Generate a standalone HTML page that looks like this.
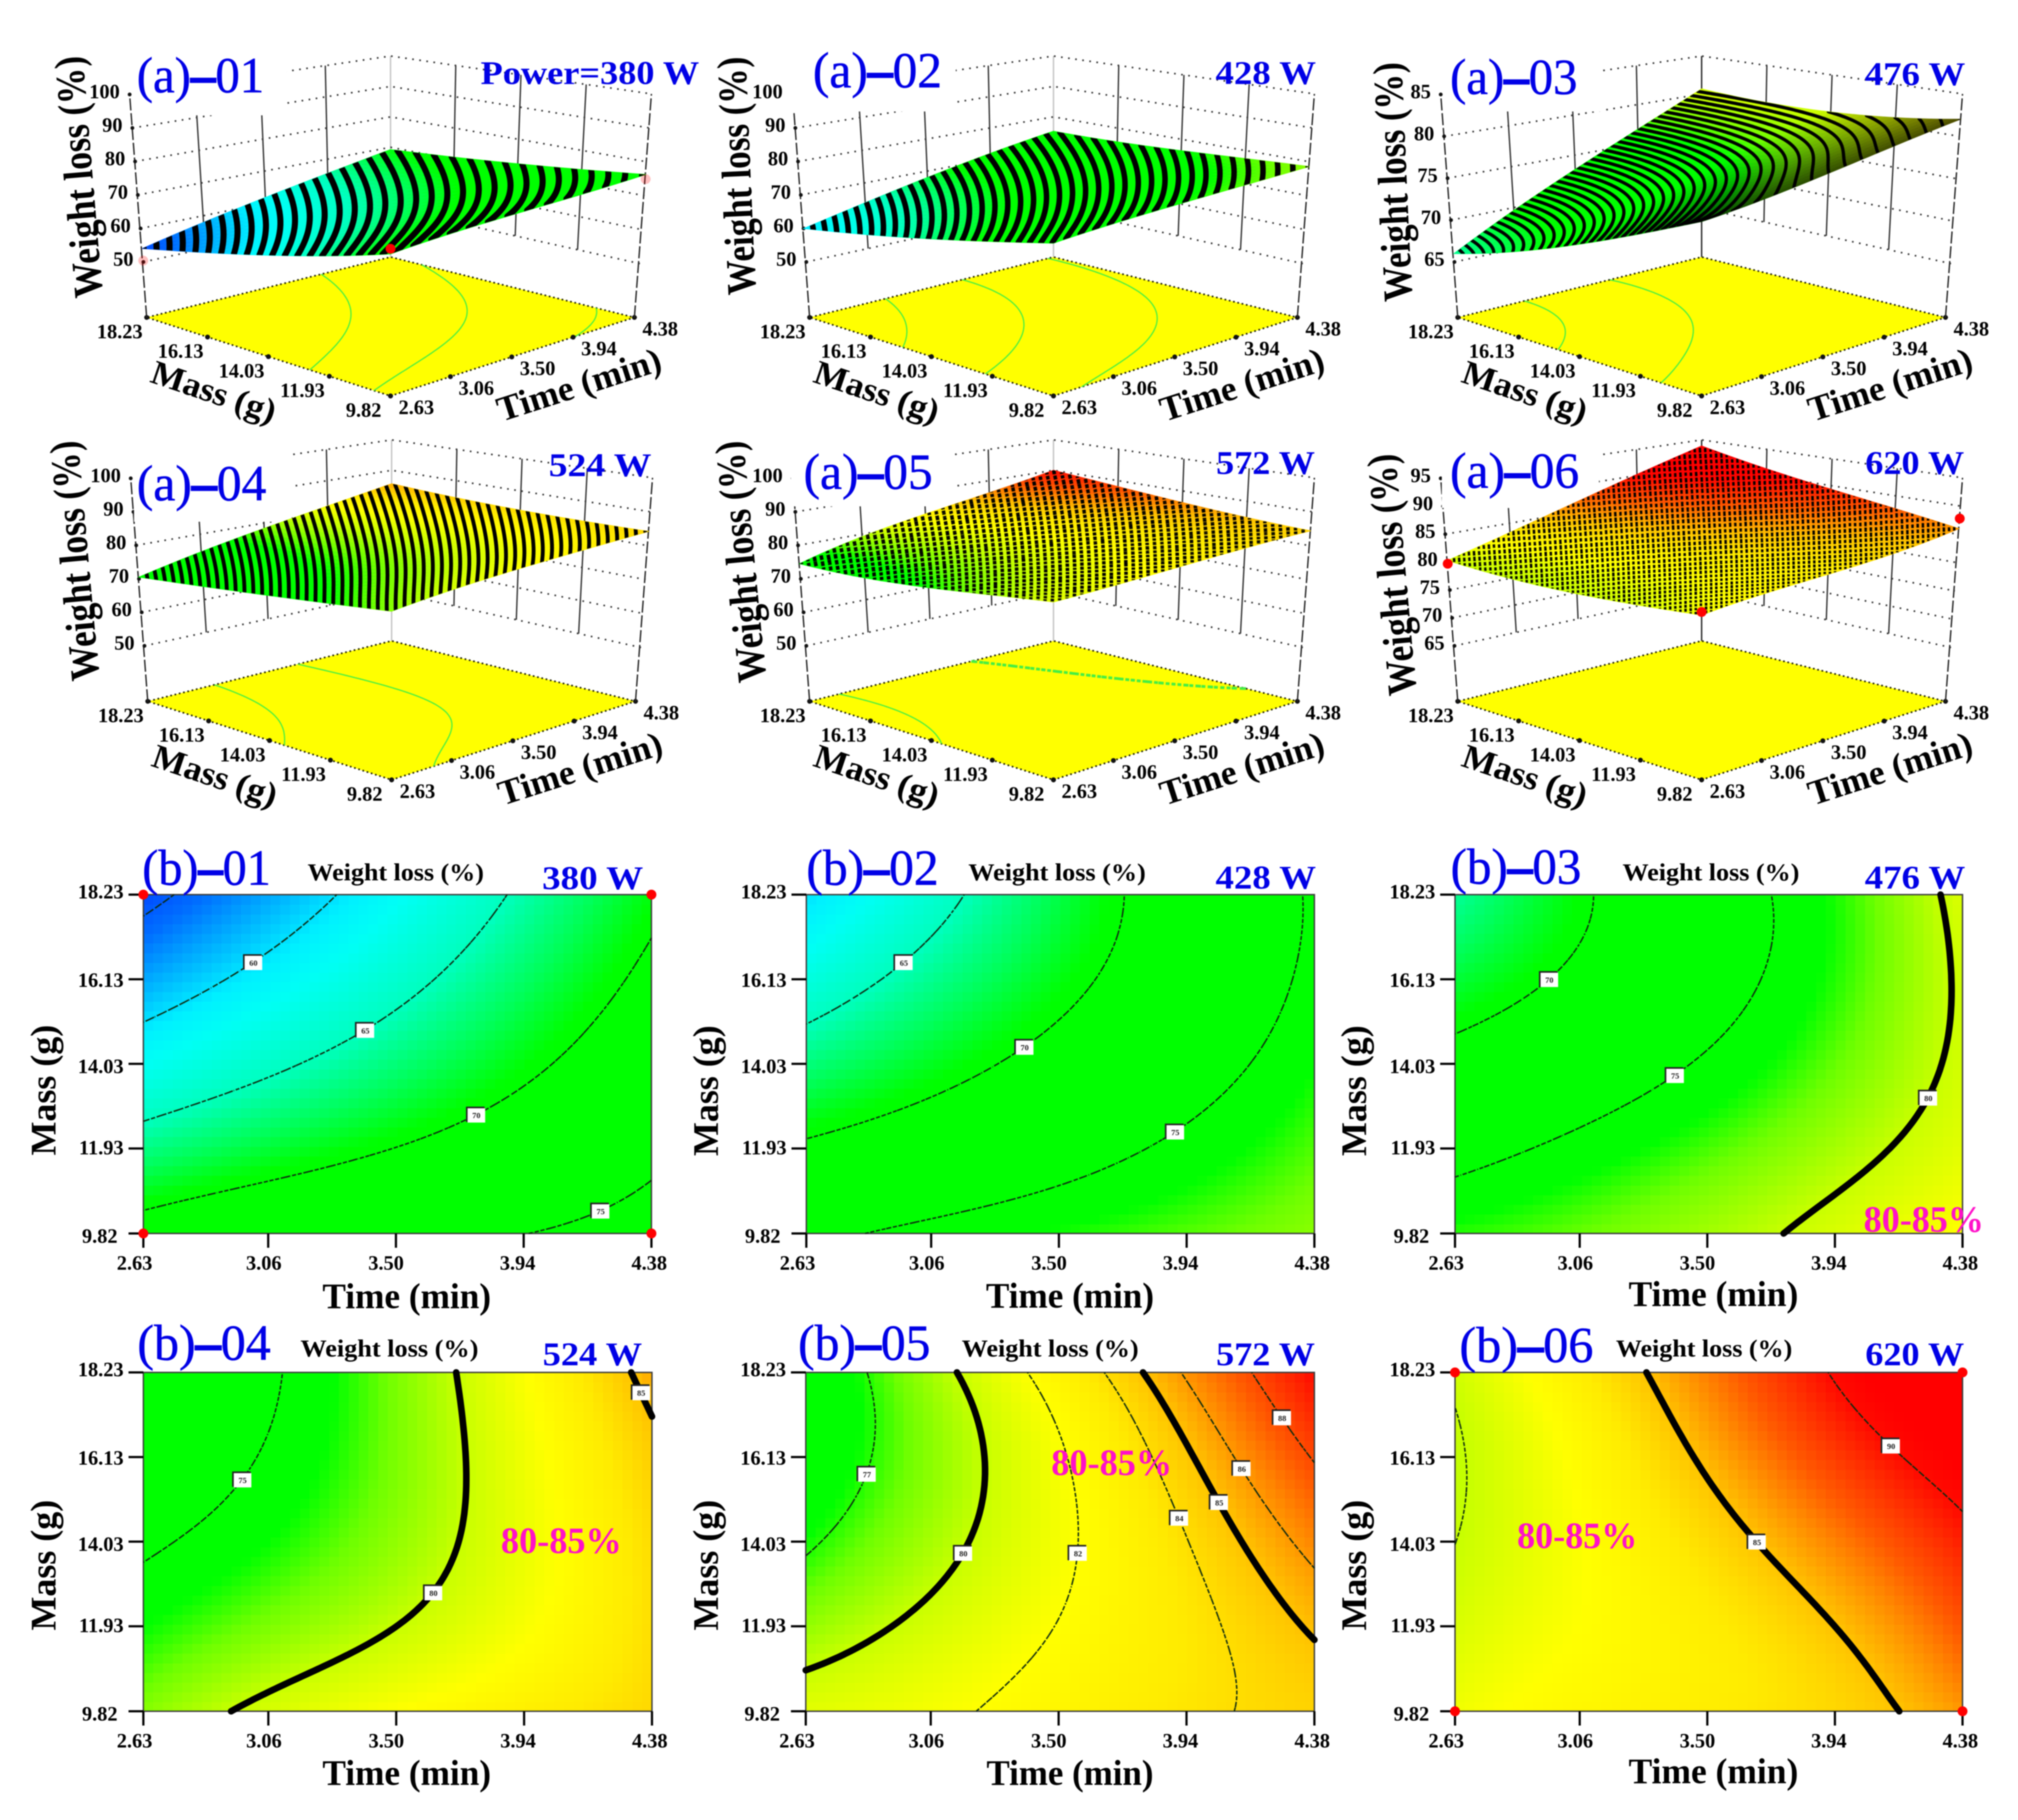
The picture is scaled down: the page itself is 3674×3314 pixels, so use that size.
<!DOCTYPE html>
<html lang="en">
<head>
<meta charset="utf-8">
<title>Weight loss response surfaces and contour plots</title>
<style>
html,body{margin:0;padding:0;background:#fff;width:3674px;height:3314px;overflow:hidden}
svg{display:block;filter:blur(1px)}
text{font-family:"Liberation Serif",serif}
.title{font-size:92px;fill:#0000e6;stroke:#0000e6;stroke-width:.8px}
.title tspan{font-weight:bold;stroke-width:3px}
.power{font-size:60px;font-weight:bold;fill:#0000e6}
.axis{font-weight:bold;fill:#000}
.heat-title{font-size:44px;font-weight:bold;fill:#000}
.range{font-size:68px;font-weight:bold;fill:#ff10c8}
</style>
</head>
<body>
<svg id="figure" xmlns="http://www.w3.org/2000/svg" width="3674" height="3314" viewBox="0 0 3674 3314">
<rect width="3674" height="3314" fill="#fff"/>
<g id="marks"></g>
<g fill="#fff">
<rect x="245" y="70" width="277" height="140"/>
<rect x="1437" y="70" width="303" height="133"/>
<rect x="2630" y="70" width="288" height="133"/>
<rect x="244" y="800" width="287" height="150"/>
<rect x="1440" y="800" width="296" height="122"/>
<rect x="2625" y="800" width="286" height="125"/>
</g>
<g id="surfaces"></g>
<g id="labels"></g>
<g>
<text class="title" x="249" y="168" textLength="232" lengthAdjust="spacingAndGlyphs">(a)<tspan>–</tspan>01</text>
<text class="title" x="1480" y="159" textLength="235" lengthAdjust="spacingAndGlyphs">(a)<tspan>–</tspan>02</text>
<text class="title" x="2640" y="171" textLength="232" lengthAdjust="spacingAndGlyphs">(a)<tspan>–</tspan>03</text>
<text class="title" x="249" y="911" textLength="236" lengthAdjust="spacingAndGlyphs">(a)<tspan>–</tspan>04</text>
<text class="title" x="1463" y="890" textLength="235" lengthAdjust="spacingAndGlyphs">(a)<tspan>–</tspan>05</text>
<text class="title" x="2640" y="888" textLength="235" lengthAdjust="spacingAndGlyphs">(a)<tspan>–</tspan>06</text>
<text class="title" x="259" y="1611" textLength="234" lengthAdjust="spacingAndGlyphs">(b)<tspan>–</tspan>01</text>
<text class="title" x="1468" y="1611" textLength="241" lengthAdjust="spacingAndGlyphs">(b)<tspan>–</tspan>02</text>
<text class="title" x="2641" y="1609" textLength="238" lengthAdjust="spacingAndGlyphs">(b)<tspan>–</tspan>03</text>
<text class="title" x="250" y="2476" textLength="243" lengthAdjust="spacingAndGlyphs">(b)<tspan>–</tspan>04</text>
<text class="title" x="1453" y="2476" textLength="241" lengthAdjust="spacingAndGlyphs">(b)<tspan>–</tspan>05</text>
<text class="title" x="2657" y="2480" textLength="244" lengthAdjust="spacingAndGlyphs">(b)<tspan>–</tspan>06</text>
</g>
<g>
<text class="power" x="875" y="153" textLength="398" lengthAdjust="spacingAndGlyphs">Power=380 W</text>
<text class="power" x="2213" y="153" textLength="183" lengthAdjust="spacingAndGlyphs">428 W</text>
<text class="power" x="3395" y="155" textLength="183" lengthAdjust="spacingAndGlyphs">476 W</text>
<text class="power" x="999" y="867" textLength="187" lengthAdjust="spacingAndGlyphs">524 W</text>
<text class="power" x="2214" y="863" textLength="180" lengthAdjust="spacingAndGlyphs">572 W</text>
<text class="power" x="3396" y="863" textLength="180" lengthAdjust="spacingAndGlyphs">620 W</text>
<text class="power" x="987" y="1619" textLength="184" lengthAdjust="spacingAndGlyphs">380 W</text>
<text class="power" x="2213" y="1618" textLength="183" lengthAdjust="spacingAndGlyphs">428 W</text>
<text class="power" x="3395" y="1618" textLength="183" lengthAdjust="spacingAndGlyphs">476 W</text>
<text class="power" x="988" y="2486" textLength="181" lengthAdjust="spacingAndGlyphs">524 W</text>
<text class="power" x="2214" y="2486" textLength="180" lengthAdjust="spacingAndGlyphs">572 W</text>
<text class="power" x="3396" y="2486" textLength="180" lengthAdjust="spacingAndGlyphs">620 W</text>
</g>
<g>
<text class="axis" font-size="76" transform="translate(187,540) rotate(-94.8)" textLength="441" lengthAdjust="spacingAndGlyphs">Weight loss (%)</text>
<text class="axis" font-size="76" transform="translate(1376,536) rotate(-92.5)" textLength="434" lengthAdjust="spacingAndGlyphs">Weight loss (%)</text>
<text class="axis" font-size="76" transform="translate(2571,548) rotate(-92.6)" textLength="436" lengthAdjust="spacingAndGlyphs">Weight loss (%)</text>
<text class="axis" font-size="76" transform="translate(181,1237) rotate(-95.2)" textLength="438" lengthAdjust="spacingAndGlyphs">Weight loss (%)</text>
<text class="axis" font-size="76" transform="translate(1395,1240) rotate(-95.5)" textLength="441" lengthAdjust="spacingAndGlyphs">Weight loss (%)</text>
<text class="axis" font-size="76" transform="translate(2579,1264) rotate(-95.1)" textLength="441" lengthAdjust="spacingAndGlyphs">Weight loss (%)</text>
<text class="axis" font-size="62" transform="translate(271,695) rotate(18.7)" textLength="236" lengthAdjust="spacingAndGlyphs">Mass (g)</text>
<text class="axis" font-size="62" transform="translate(1478,695) rotate(18.7)" textLength="236" lengthAdjust="spacingAndGlyphs">Mass (g)</text>
<text class="axis" font-size="62" transform="translate(2658,695) rotate(18.7)" textLength="236" lengthAdjust="spacingAndGlyphs">Mass (g)</text>
<text class="axis" font-size="62" transform="translate(273,1394) rotate(18.7)" textLength="236" lengthAdjust="spacingAndGlyphs">Mass (g)</text>
<text class="axis" font-size="62" transform="translate(1478,1394) rotate(18.7)" textLength="236" lengthAdjust="spacingAndGlyphs">Mass (g)</text>
<text class="axis" font-size="62" transform="translate(2658,1394) rotate(18.7)" textLength="236" lengthAdjust="spacingAndGlyphs">Mass (g)</text>
<text class="axis" font-size="64" transform="translate(913,768) rotate(-17.8)" textLength="310" lengthAdjust="spacingAndGlyphs">Time (min)</text>
<text class="axis" font-size="64" transform="translate(2120,768) rotate(-17.8)" textLength="310" lengthAdjust="spacingAndGlyphs">Time (min)</text>
<text class="axis" font-size="64" transform="translate(3300,768) rotate(-17.8)" textLength="310" lengthAdjust="spacingAndGlyphs">Time (min)</text>
<text class="axis" font-size="64" transform="translate(915,1467) rotate(-17.8)" textLength="310" lengthAdjust="spacingAndGlyphs">Time (min)</text>
<text class="axis" font-size="64" transform="translate(2120,1467) rotate(-17.8)" textLength="310" lengthAdjust="spacingAndGlyphs">Time (min)</text>
<text class="axis" font-size="64" transform="translate(3300,1467) rotate(-17.8)" textLength="310" lengthAdjust="spacingAndGlyphs">Time (min)</text>
</g>
<g>
<text class="heat-title" x="560" y="1603" textLength="321" lengthAdjust="spacingAndGlyphs">Weight loss (%)</text>
<text class="heat-title" x="1763" y="1603" textLength="323" lengthAdjust="spacingAndGlyphs">Weight loss (%)</text>
<text class="heat-title" x="2954" y="1603" textLength="322" lengthAdjust="spacingAndGlyphs">Weight loss (%)</text>
<text class="heat-title" x="547" y="2470" textLength="324" lengthAdjust="spacingAndGlyphs">Weight loss (%)</text>
<text class="heat-title" x="1751" y="2470" textLength="322" lengthAdjust="spacingAndGlyphs">Weight loss (%)</text>
<text class="heat-title" x="2942" y="2470" textLength="321" lengthAdjust="spacingAndGlyphs">Weight loss (%)</text>
<text class="axis" font-size="66" text-anchor="middle" transform="translate(101,1985) rotate(-90)" textLength="238" lengthAdjust="spacingAndGlyphs">Mass (g)</text>
<text class="axis" font-size="66" text-anchor="middle" transform="translate(1307,1986) rotate(-90)" textLength="238" lengthAdjust="spacingAndGlyphs">Mass (g)</text>
<text class="axis" font-size="66" text-anchor="middle" transform="translate(2487,1986) rotate(-90)" textLength="238" lengthAdjust="spacingAndGlyphs">Mass (g)</text>
<text class="axis" font-size="66" text-anchor="middle" transform="translate(101,2850) rotate(-90)" textLength="238" lengthAdjust="spacingAndGlyphs">Mass (g)</text>
<text class="axis" font-size="66" text-anchor="middle" transform="translate(1307,2850) rotate(-90)" textLength="238" lengthAdjust="spacingAndGlyphs">Mass (g)</text>
<text class="axis" font-size="66" text-anchor="middle" transform="translate(2487,2850) rotate(-90)" textLength="238" lengthAdjust="spacingAndGlyphs">Mass (g)</text>
<text class="axis" font-size="66" x="587" y="2382" textLength="307" lengthAdjust="spacingAndGlyphs">Time (min)</text>
<text class="axis" font-size="66" x="1795" y="2381" textLength="306" lengthAdjust="spacingAndGlyphs">Time (min)</text>
<text class="axis" font-size="66" x="2965" y="2378" textLength="309" lengthAdjust="spacingAndGlyphs">Time (min)</text>
<text class="axis" font-size="66" x="587" y="3250" textLength="307" lengthAdjust="spacingAndGlyphs">Time (min)</text>
<text class="axis" font-size="66" x="1796" y="3250" textLength="304" lengthAdjust="spacingAndGlyphs">Time (min)</text>
<text class="axis" font-size="66" x="2965" y="3247" textLength="309" lengthAdjust="spacingAndGlyphs">Time (min)</text>
</g>
<g>
<text class="range" x="3393" y="2243" textLength="219" lengthAdjust="spacingAndGlyphs">80-85%</text>
<text class="range" x="912" y="2828" textLength="220" lengthAdjust="spacingAndGlyphs">80-85%</text>
<text class="range" x="1914" y="2686" textLength="220" lengthAdjust="spacingAndGlyphs">80-85%</text>
<text class="range" x="2762" y="2819" textLength="219" lengthAdjust="spacingAndGlyphs">80-85%</text>
</g>
</svg>
<script>
// ---- data ----
const timeTicks = [2.63, 3.06, 3.50, 3.94, 4.38];
const timeTickLabels = ['2.63', '3.06', '3.50', '3.94', '4.38'];
const massTicks = [9.82, 11.93, 14.03, 16.13, 18.23];
const massTickLabels = ['9.82', '11.93', '14.03', '16.13', '18.23'];

// Weight loss (%): rows go from mass 9.82 up to 18.23, columns from time 2.63 to 4.38
const weightLoss380 = [
  [71.4, 72.9, 74.1, 74.9, 76.3],
  [66.5, 68.4, 70.0, 72.0, 74.2],
  [62.0, 64.5, 66.8, 69.4, 72.5],
  [58.0, 61.0, 64.2, 67.2, 70.7],
  [54.0, 58.0, 61.8, 65.5, 69.3]];
const weightLoss428 = [
  [74.3, 75.7, 76.7, 77.6, 78.6],
  [70.4, 72.0, 74.0, 75.8, 77.6],
  [66.8, 68.8, 70.9, 73.3, 76.5],
  [63.1, 66.3, 69.3, 72.5, 75.6],
  [60.0, 64.0, 68.0, 71.8, 75.3]];
const weightLoss476 = [
  [77.0, 78.0, 79.0, 80.7, 82.0],
  [74.0, 75.7, 77.6, 79.2, 81.0],
  [71.0, 72.9, 75.3, 77.9, 80.4],
  [68.3, 70.7, 73.8, 76.9, 80.3],
  [66.0, 69.6, 73.3, 76.8, 80.7]];
const weightLoss524 = [
  [78.5, 80.6, 82.0, 83.2, 84.2],
  [76.5, 78.4, 79.8, 81.8, 84.0],
  [74.5, 76.7, 78.9, 81.5, 84.0],
  [72.5, 75.3, 78.2, 81.4, 84.6],
  [70.5, 74.7, 78.3, 82.0, 85.6]];
const weightLoss572 = [
  [81.0, 81.7, 82.7, 83.7, 84.4],
  [78.8, 80.5, 81.9, 83.6, 85.1],
  [76.7, 79.5, 81.7, 84.1, 86.5],
  [75.0, 78.5, 81.9, 84.7, 88.1],
  [74.5, 79.4, 82.7, 86.3, 90.0]];
const weightLoss620 = [
  [81.5, 82.5, 83.4, 84.2, 86.0],
  [80.6, 82.1, 83.3, 85.0, 87.8],
  [80.0, 81.9, 84.1, 86.6, 89.2],
  [79.8, 82.4, 85.4, 88.4, 91.4],
  [80.3, 83.3, 86.7, 90.2, 93.8]];
const powerSeries = [weightLoss380, weightLoss428, weightLoss476, weightLoss524, weightLoss572, weightLoss620];

const zAxisTicks = [
  [50, 60, 70, 80, 90, 100],
  [50, 60, 70, 80, 90, 100],
  [65, 70, 75, 80, 85],
  [50, 60, 70, 80, 90, 100],
  [50, 60, 70, 80, 90, 100],
  [65, 70, 75, 80, 85, 90, 95]];
const thinContourLevels = [[55, 60, 65, 70, 75], [65, 70, 75], [70, 75], [75], [77, 82, 84, 86, 88], [80, 90]];
const thickContourLevels = [[], [], [80], [80, 85], [80, 85], [85]];
const floorContourLevels = [[65, 70, 75], [65, 70, 75], [70, 75], [75, 80], [77, 85], []];

// Design points marked on the surfaces: time, mass, weight loss, opacity
const surfacePoints = [
  [[2.63, 9.82, 72.8, 1], [2.63, 18.23, 50.4, 0.25], [4.38, 9.82, 74.9, 0.25]],
  [], [], [], [],
  [[2.63, 18.23, 79.7, 1], [2.63, 9.82, 82, 1], [4.38, 9.82, 87.8, 1]]];
// Design points marked on the contour plots: time, mass
const contourPoints = [
  [[2.63, 18.23], [4.38, 18.23], [2.63, 9.82], [4.38, 9.82]],
  [], [], [], [],
  [[2.63, 18.23], [4.38, 18.23], [2.63, 9.82], [4.38, 9.82]]];

// ---- layout and styling ----
const marksLayer = document.getElementById('marks');
const surfaceLayer = document.getElementById('surfaces');
const labelLayer = document.getElementById('labels');
const NS = 'http://www.w3.org/2000/svg';
const surfaceOrigins = [[711, 721], [1918, 721], [3098, 721], [713, 1420], [1918, 1420], [3098, 1420]];
const contourFrames = [[261, 1629, 925, 617], [1468, 1629, 925, 617], [2649, 1629, 924, 617], [261, 2499, 926, 617], [1467, 2499, 926, 617], [2649, 2499, 924, 617]];
const backPostColors = ['#c4c4c4', '#c4c4c4', '#222', '#c4c4c4', '#c4c4c4', '#222'];
const stripePeriods = [40, 30, 200, 17, 13, 9];
const stripeZWeights = [0.5, 0.5, 2.4, 0.3, 0.2, 0.1];
const stripeWidths = [11, 10, 6, 7, 6.5, 4.5];
const stripeGapModes = [0, 0, 0, 0, 4, 3];
const stripeGapFrequency = [0, 0, 0, 0, 60, 50];
const frontShade = [0, 0, 0.7, 0, 0, 0];
const colorStops = [
  [52, [0, 40, 255]], [56, [0, 110, 255]], [60.5, [0, 240, 255]], [62, [0, 255, 245]], [65, [0, 255, 190]],
  [67.5, [0, 255, 90]], [69.5, [0, 255, 0]], [76.5, [0, 255, 0]], [78, [110, 255, 0]],
  [80, [200, 255, 0]], [82, [255, 255, 0]], [83.5, [255, 235, 0]], [85, [255, 195, 0]], [87.5, [255, 90, 0]], [90, [255, 10, 0]], [91, [255, 0, 0]]];

function mk(tag, parent, attrs) {
  const e = document.createElementNS(NS, tag);
  for (const k in attrs) e.setAttribute(k, attrs[k]);
  parent.appendChild(e);
  return e;
}
function colorFor(z, factor) {
  const f = factor === undefined ? 1 : factor;
  let rgb = [255, 0, 0];
  if (z <= colorStops[0][0]) {
    rgb = colorStops[0][1];
  } else {
    for (let i = 1; i < colorStops.length; i++) {
      if (z <= colorStops[i][0]) {
        const a = colorStops[i - 1], b = colorStops[i], t = (z - a[0]) / (b[0] - a[0]);
        rgb = a[1].map((c, k) => c + (b[1][k] - c) * t);
        break;
      }
    }
  }
  return 'rgb(' + rgb.map(c => Math.round(c * f)).join(',') + ')';
}
function timeScale(t) { return (t - timeTicks[0]) / (timeTicks[4] - timeTicks[0]); }
function massScale(m) { return (m - massTicks[0]) / (massTicks[4] - massTicks[0]); }

// Smooth, response-surface style reading of the 5x5 value table: tensor-product cubic fit
const fourthDifference = [1, -4, 6, -4, 1];
function fitLine(a) {
  let c = 0;
  for (let i = 0; i < 5; i++) c += fourthDifference[i] * a[i];
  c /= 70;
  return a.map((x, i) => x - c * fourthDifference[i]);
}
const fittedTables = new Map();
function fittedTable(g) {
  if (fittedTables.has(g)) return fittedTables.get(g);
  const rows = g.map(fitLine);
  const out = rows.map(r => r.slice());
  for (let c = 0; c < 5; c++) {
    const col = fitLine(rows.map(r => r[c]));
    for (let r = 0; r < 5; r++) out[r][c] = col[r];
  }
  fittedTables.set(g, out);
  return out;
}
function nodeWeights(x) {
  const w = [];
  for (let k = 0; k < 5; k++) {
    let p = 1;
    for (let m = 0; m < 5; m++) if (m !== k) p *= (x - m) / (k - m);
    w.push(p);
  }
  return w;
}
function sample(g, u, v) {
  const f = fittedTable(g), wu = nodeWeights(u * 4), wv = nodeWeights(v * 4);
  let s = 0;
  for (let r = 0; r < 5; r++) {
    for (let c = 0; c < 5; c++) s += wv[r] * wu[c] * f[r][c];
  }
  return s;
}
function fieldGrid(fn, nx, ny) {
  const out = [];
  for (let j = 0; j <= ny; j++) {
    const row = [];
    for (let i = 0; i <= nx; i++) row.push(fn(i / nx, j / ny));
    out.push(row);
  }
  return out;
}
function contourSegments(vals, nx, ny, level) {
  const segs = [];
  for (let j = 0; j < ny; j++) {
    for (let i = 0; i < nx; i++) {
      const a = vals[j][i], b = vals[j][i + 1], c = vals[j + 1][i + 1], d = vals[j + 1][i];
      const pts = [];
      if ((a < level) !== (b < level)) pts.push([(i + (level - a) / (b - a)) / nx, j / ny]);
      if ((b < level) !== (c < level)) pts.push([(i + 1) / nx, (j + (level - b) / (c - b)) / ny]);
      if ((d < level) !== (c < level)) pts.push([(i + (level - d) / (c - d)) / nx, (j + 1) / ny]);
      if ((a < level) !== (d < level)) pts.push([i / nx, (j + (level - a) / (d - a)) / ny]);
      if (pts.length >= 2) segs.push([pts[0], pts[1]]);
      if (pts.length === 4) segs.push([pts[2], pts[3]]);
    }
  }
  return segs;
}
function segmentsToPath(segs, project) {
  let d = '';
  for (const s of segs) {
    const p = project(s[0][0], s[0][1]), q = project(s[1][0], s[1][1]);
    d += 'M' + p[0].toFixed(1) + ' ' + p[1].toFixed(1) + 'L' + q[0].toFixed(1) + ' ' + q[1].toFixed(1);
  }
  return d;
}
function lerp2(c00, c10, c01, c11, u, v) {
  return [
    (1 - u) * (1 - v) * c00[0] + u * (1 - v) * c10[0] + (1 - u) * v * c01[0] + u * v * c11[0],
    (1 - u) * (1 - v) * c00[1] + u * (1 - v) * c10[1] + (1 - u) * v * c01[1] + u * v * c11[1]];
}

// ---- 3D response surfaces ----
function drawSurfacePanel(idx) {
  const ox = surfaceOrigins[idx][0], oy = surfaceOrigins[idx][1];
  const grid = powerSeries[idx], zt = zAxisTicks[idx];
  const zMin = zt[0], zMax = zt[zt.length - 1];
  const zFrac = z => (z - zMin) / (zMax - zMin);
  const floorAt = (u, v) => {
    const p = lerp2([0, 0], [444, -143], [-444, -143], [0, -253], u, v);
    return [ox + p[0], oy + p[1]];
  };
  const boxAt = (u, v, t) => {
    const lo = lerp2([0, -113], [454, -241], [-450, -244], [0, -342], u, v);
    const hi = lerp2([0, -453], [475, -550], [-475, -549], [0, -619], u, v);
    return [ox + lo[0] + (hi[0] - lo[0]) * t, oy + lo[1] + (hi[1] - lo[1]) * t];
  };
  const pts = a => a.map(p => p[0].toFixed(1) + ',' + p[1].toFixed(1)).join(' ');

  const g = mk('g', marksLayer, {});
  
  

  const floor = mk('polygon', g, { points: pts([floorAt(0, 0), floorAt(1, 0), floorAt(1, 1), floorAt(0, 1)]), fill: '#ffff00', stroke: '#1a1a00', 'stroke-width': 3, 'stroke-dasharray': '3 5' });
  
  

  const fine = fieldGrid((u, v) => sample(grid, u, v), 60, 60);
  for (const level of floorContourLevels[idx]) {
    const heavy = idx === 4 && level === 85;
    const line = mk('path', g, { d: segmentsToPath(contourSegments(fine, 60, 60, level), floorAt), fill: 'none', stroke: '#44ee44', 'stroke-width': heavy ? 5 : 2.2, 'stroke-dasharray': heavy ? '7 13' : '10 4' });
    
    
  }
  for (let k = 0; k < 5; k++) {
    const mp = floorAt(0, massScale(massTicks[k]));
    const md = mk('circle', g, { cx: mp[0], cy: mp[1], r: 4.5, fill: '#111' });
    
    
    const tp = floorAt(timeScale(timeTicks[k]), 0);
    const td = mk('circle', g, { cx: tp[0], cy: tp[1], r: 4.5, fill: '#111' });
    
    
    const ml = mk('text', labelLayer, { x: mp[0] - 49, y: mp[1] + 38, 'text-anchor': 'middle', 'font-size': 37, 'font-weight': 'bold' });
    
    
    ml.textContent = massTickLabels[k];
    const tl = mk('text', labelLayer, { x: tp[0] + 47, y: tp[1] + 33, 'text-anchor': 'middle', 'font-size': 37, 'font-weight': 'bold' });
    
    
    tl.textContent = timeTickLabels[k];
  }

  // back walls: verticals at the tick positions
  for (let k = 1; k < 4; k++) {
    const a = boxAt(1 - k / 4, 1, 0), b = boxAt(1 - k / 4, 1, 1);
    const w1 = mk('line', g, { x1: a[0], y1: a[1], x2: b[0], y2: b[1], stroke: '#333', 'stroke-width': 2.5 });
    
    
    const c = boxAt(1, k / 4, 0), d = boxAt(1, k / 4, 1);
    const w2 = mk('line', g, { x1: c[0], y1: c[1], x2: d[0], y2: d[1], stroke: '#333', 'stroke-width': 2.5 });
    
    
  }
  const fL = floorAt(0, 1), tL = boxAt(0, 1, 1), fR = floorAt(1, 0), tR = boxAt(1, 0, 1), fK = floorAt(1, 1), tK = boxAt(1, 1, 1);
  const postL = mk('line', g, { x1: fL[0], y1: fL[1], x2: tL[0], y2: tL[1], stroke: '#222', 'stroke-width': 2.5, 'stroke-dasharray': '22 5' });
  
  
  const postR = mk('line', g, { x1: fR[0], y1: fR[1], x2: tR[0], y2: tR[1], stroke: '#222', 'stroke-width': 2.5, 'stroke-dasharray': '22 5' });
  
  
  const postK = mk('line', g, { x1: fK[0], y1: fK[1], x2: tK[0], y2: tK[1], stroke: backPostColors[idx], 'stroke-width': 2.5 });
  
  

  // z-level dotted lines and labels
  for (const z of zt) {
    const t = zFrac(z);
    const l = boxAt(0, 1, t), k = boxAt(1, 1, t), r = boxAt(1, 0, t);
    const level = mk('polyline', g, { points: pts([l, k, r]), fill: 'none', stroke: '#333', 'stroke-width': 3, 'stroke-dasharray': '3 10' });
    
    
    const dot = mk('circle', g, { cx: l[0], cy: l[1], r: 3.5, fill: '#111' });
    
    
    const zl = mk('text', labelLayer, { x: l[0] - 18, y: l[1] + 7, 'text-anchor': 'end', 'font-size': 37, 'font-weight': 'bold' });
    
    
    zl.textContent = String(z);
  }

  // surface colour mesh
  const surfAt = (u, v) => boxAt(u, v, zFrac(sample(grid, u, v)));
  const n = 34;
  const surfaceGroup = mk('g', surfaceLayer, {});
  
  
  for (let j = 0; j < n; j++) {
    for (let i = 0; i < n; i++) {
      const u0 = i / n, u1 = (i + 1) / n, v0 = j / n, v1 = (j + 1) / n;
      const vm = (v0 + v1) / 2;
      const shade = 1 - frontShade[idx] * Math.max(0, 1 - vm / 0.55);
      const col = colorFor(sample(grid, (u0 + u1) / 2, vm), shade);
      const quad = mk('polygon', surfaceGroup, { points: pts([surfAt(u0, v0), surfAt(u1, v0), surfAt(u1, v1), surfAt(u0, v1)]), fill: col, stroke: col, 'stroke-width': 1.2 });
      
      
    }
  }

  // dark mesh moire bands
  const clipId = 'surface-clip-' + idx;
  const clip = mk('clipPath', surfaceLayer, { id: clipId });
  
  
  const outline = [];
  for (let k = 0; k < 24; k++) outline.push(surfAt(k / 24, 0));
  for (let k = 0; k < 24; k++) outline.push(surfAt(1, k / 24));
  for (let k = 0; k < 24; k++) outline.push(surfAt(1 - k / 24, 1));
  for (let k = 0; k < 24; k++) outline.push(surfAt(0, 1 - k / 24));
  const clipShape = mk('polygon', clip, { points: pts(outline) });
  
  

  const nm = idx === 5 ? 170 : 110;
  const phase = fieldGrid((u, v) => 444 * (u - v) / stripePeriods[idx] + stripeZWeights[idx] * sample(grid, u, v), nm, nm);
  let lo = Infinity, hi = -Infinity;
  phase.forEach(row => row.forEach(x => { if (x < lo) lo = x; if (x > hi) hi = x; }));
  let d = '';
  for (let level = Math.ceil(lo); level <= hi; level++) {
    let segs = contourSegments(phase, nm, nm, level + 0.013);
    if (stripeGapModes[idx]) {
      segs = segs.filter(s => Math.floor((s[0][0] + s[0][1] + s[1][0] + s[1][1]) / 2 * stripeGapFrequency[idx]) % stripeGapModes[idx] !== 0);
    }
    d += segmentsToPath(segs, surfAt);
  }
  const bands = mk('path', surfaceLayer, { d: d, fill: 'none', stroke: '#000', 'stroke-width': stripeWidths[idx], 'stroke-linecap': stripeGapModes[idx] ? 'butt' : 'round', 'clip-path': 'url(#' + clipId + ')' });
  
  

  for (const pt of surfacePoints[idx]) {
    const p = boxAt(timeScale(pt[0]), massScale(pt[1]), zFrac(pt[2]));
    const marker = mk('circle', surfaceLayer, { cx: p[0], cy: p[1], r: 9, fill: '#ff0000', 'fill-opacity': pt[3] });
    
    
  }
}

// ---- 2D contour plots ----
const xLabelNudges = [-16, -8, -18, -11, -4];
const yLabelNudges = [4, -2, 4, 1, -6];
function drawContourPanel(idx) {
  const f = contourFrames[idx], left = f[0], top = f[1], w = f[2], h = f[3];
  const grid = powerSeries[idx];
  const xOf = u => left + u * w, yOf = v => top + h - v * h;
  const project = (u, v) => [xOf(u), yOf(v)];
  const g = mk('g', marksLayer, {});
  
  

  const nx = 52, ny = 35;
  const cells = mk('g', g, { 'shape-rendering': 'crispEdges' });
  
  
  for (let j = 0; j < ny; j++) {
    for (let i = 0; i < nx; i++) {
      const cell = mk('rect', cells, { x: xOf(i / nx), y: yOf((j + 1) / ny), width: w / nx + 1, height: h / ny + 1, fill: colorFor(sample(grid, (i + 0.5) / nx, (j + 0.5) / ny)) });
      
      
    }
  }
  const frame = mk('rect', g, { x: left, y: top, width: w, height: h, fill: 'none', stroke: '#3a3a3a', 'stroke-width': 2.5 });
  
  

  const fine = fieldGrid((u, v) => sample(grid, u, v), 90, 60);
  const addLabel = (segs, level) => {
    if (segs.length < 10) return;
    const s = segs[Math.floor(segs.length * 0.54)];
    if (s[0][0] < 0.03) return;
    const p = project(s[0][0], s[0][1]);
    const shadow = mk('rect', g, { x: p[0] - 18, y: p[1] - 15, width: 34, height: 28, fill: '#222' });
    
    
    const box = mk('rect', g, { x: p[0] - 15, y: p[1] - 12, width: 32, height: 26, fill: '#fff' });
    
    
    const text = mk('text', g, { x: p[0] + 1, y: p[1] + 6, 'text-anchor': 'middle', 'font-size': 15, 'font-weight': 'bold', fill: '#222' });
    
    
    text.textContent = String(level);
  };
  for (const level of thinContourLevels[idx]) {
    const segs = contourSegments(fine, 90, 60, level);
    const line = mk('path', g, { d: segmentsToPath(segs, project), fill: 'none', stroke: '#0d2a10', 'stroke-width': 2.6, 'stroke-dasharray': '7 3' });
    
    
    addLabel(segs, level);
  }
  for (const level of thickContourLevels[idx]) {
    const segs = contourSegments(fine, 90, 60, level);
    const line = mk('path', g, { d: segmentsToPath(segs, project), fill: 'none', stroke: '#000', 'stroke-width': 12, 'stroke-linecap': 'round' });
    
    
    addLabel(segs, level);
  }
  for (let k = 0; k < 5; k++) {
    const x = xOf(timeScale(timeTicks[k]));
    const xt = mk('line', g, { x1: x, y1: top + h, x2: x, y2: top + h + 26, stroke: '#000', 'stroke-width': 4 });
    
    
    const xl = mk('text', labelLayer, { x: x + xLabelNudges[k], y: top + h + 66, 'text-anchor': 'middle', 'font-size': 37, 'font-weight': 'bold' });
    
    
    xl.textContent = timeTickLabels[k];
    const y = yOf(massScale(massTicks[k]));
    const yt = mk('line', g, { x1: left - 27, y1: y, x2: left, y2: y, stroke: '#000', 'stroke-width': 4 });
    
    
    const yl = mk('text', labelLayer, { x: left - (k === 0 ? 47 : 36), y: y + yLabelNudges[k] + 13, 'text-anchor': 'end', 'font-size': 37, 'font-weight': 'bold' });
    
    
    yl.textContent = massTickLabels[k];
  }
  for (const pt of contourPoints[idx]) {
    const marker = mk('circle', g, { cx: xOf(timeScale(pt[0])), cy: yOf(massScale(pt[1])), r: 9, fill: '#ff0000' });
    
    
  }
}

for (let i = 0; i < 6; i++) drawSurfacePanel(i);
for (let i = 0; i < 6; i++) drawContourPanel(i);
</script>
</body>
</html>
